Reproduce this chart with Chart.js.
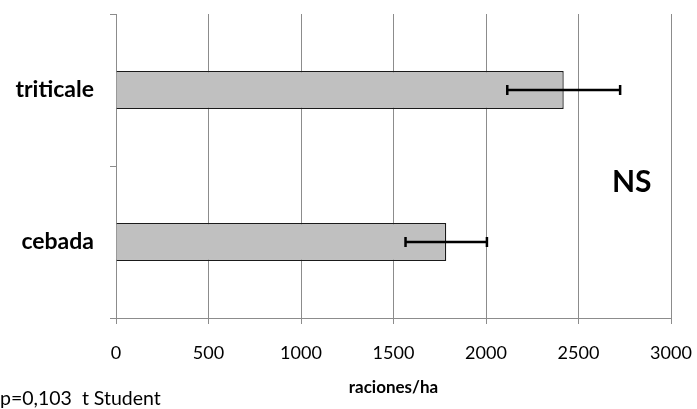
<!DOCTYPE html>
<html>
<head>
<meta charset="utf-8">
<script src="https://cdn.jsdelivr.net/npm/chart.js@4"></script>
<style>
  body { margin: 0; background: #fff; }
  #wrap { position: relative; width: 697px; height: 409px; }
  .note { position: absolute; font-family: Lato, sans-serif; color: #000; white-space: nowrap; }
</style>
</head>
<body>
<div id="wrap">
  <canvas id="myChart" width="697" height="409"></canvas>
  <div class="note" style="left:612px; top:162px; font-size:30px; font-weight:bold;">NS</div>
  <div class="note" style="left:0px; top:386px; font-size:19.5px;">p=0,103&nbsp; t Student</div>
</div>
<script>
const categories = ["triticale", "cebada"]
const values = [2420, 1785]
const errors = [305, 220]
const xTicks = [0, 500, 1000, 1500, 2000, 2500, 3000]

// draws the +/- error whiskers on top of the bars
const errorBars = {
  id: "errorBars",
  afterDatasetsDraw(chart) {
    const ctx = chart.ctx
    const x = chart.scales.x
    const y = chart.scales.y
    ctx.save()
    ctx.strokeStyle = "#000"
    ctx.lineWidth = 2.5
    values.forEach((v, i) => {
      const yc = y.getPixelForValue(i)
      const x1 = x.getPixelForValue(v - errors[i])
      const x2 = x.getPixelForValue(v + errors[i])
      ctx.beginPath()
      ctx.moveTo(x1, yc)
      ctx.lineTo(x2, yc)
      ctx.moveTo(x1, yc - 5)
      ctx.lineTo(x1, yc + 5)
      ctx.moveTo(x2, yc - 5)
      ctx.lineTo(x2, yc + 5)
      ctx.stroke()
    })
    ctx.restore()
  }
}

Chart.defaults.font.family = "Lato, sans-serif"
Chart.defaults.color = "#000"

new Chart(document.getElementById("myChart"), {
  type: "bar",
  data: {
    labels: categories,
    datasets: [
      {
        data: values,
        backgroundColor: "#c0c0c0",
        borderColor: "#1a1a1a",
        borderWidth: 1.3,
        categoryPercentage: 0.25,
        barPercentage: 1,
      },
    ],
  },
  options: {
    indexAxis: "y",
    responsive: false,
    animation: false,
    layout: {
      padding: { top: 14, right: 26, left: 0, bottom: 0 },
    },
    plugins: {
      legend: { display: false },
      tooltip: { enabled: false },
    },
    scales: {
      x: {
        min: 0,
        max: 3000,
        afterBuildTicks: (scale) => {
          scale.ticks = xTicks.map(v => ({ value: v }))
        },
        afterFit: (scale) => {
          scale.height = 91
          scale.paddingLeft = 0
          scale.paddingRight = 0
        },
        grid: { color: "#8c8c8c", tickLength: 6 },
        border: { color: "#8c8c8c" },
        ticks: { font: { size: 18 }, padding: 18, callback: (v) => String(v) },
        title: {
          display: true,
          text: "raciones/ha",
          font: { size: 17, weight: "bold" },
          padding: { top: 0, bottom: 11 },
        },
      },
      y: {
        afterFit: (scale) => {
          scale.width = 116
          scale.paddingTop = 0
          scale.paddingBottom = 0
        },
        grid: { offset: true, drawOnChartArea: false, color: "#8c8c8c", tickLength: 6 },
        border: { color: "#8c8c8c" },
        ticks: { font: { size: 23, weight: "bold" }, padding: 16 },
      },
    },
  },
  plugins: [errorBars],
});
</script>
</body>
</html>
